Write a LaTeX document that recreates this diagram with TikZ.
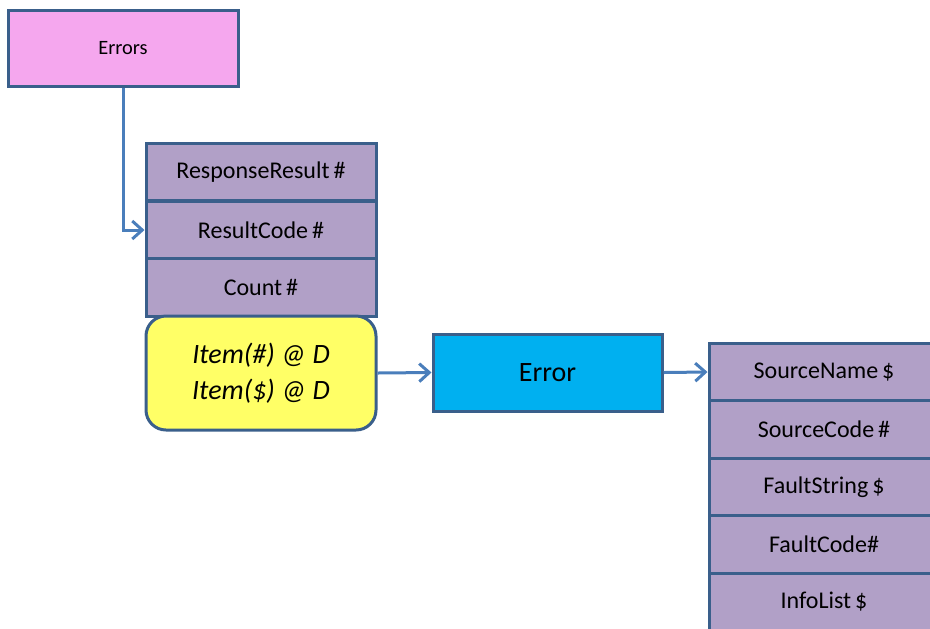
\documentclass[tikz,border=0pt]{standalone}
\usepackage{fontspec}
\setmainfont{Carlito}
\usetikzlibrary{arrows.meta, positioning}
\definecolor{boxline}{HTML}{3A5F8B}
\definecolor{linkblue}{HTML}{4A7EBB}
\definecolor{errorspink}{HTML}{F5A7EE}
\definecolor{fieldfill}{HTML}{B1A0C7}
\definecolor{itemyellow}{HTML}{FFFF66}
\definecolor{errorcyan}{HTML}{00B0F0}

\begin{document}
\begin{tikzpicture}[x=0.5pt, y=-0.5pt,
    field/.style={draw=boxline, line width=1.5pt, fill=fieldfill, minimum width=115pt,
      minimum height=28.75pt, inner sep=0pt, font=\fontsize{12}{14}\selectfont},
    link/.style={draw=linkblue, line width=1.5pt, -{Straight Barb[length=5pt, width=9pt]}}]
          \useasboundingbox (0,0) rectangle (930,628);
          \clip (0,0) rectangle (930,628);
          % Errors box
          \node[draw=boxline, line width=1.5pt, fill=errorspink, minimum width=115pt, minimum height=38pt,
            font=\fontsize{10.2}{12}\selectfont] (errors) at (123,48) {Errors};
          % Left fields
          \node[field] (respres) at (261,172) {ResponseResult\,\#};
          \node[field] (rescode) at (261,230) {ResultCode\,\#};
          \node[field] (count) at (261,287.5) {Count\,\#};
          % Items
          \node[draw=boxline, line width=1.5pt, fill=itemyellow, rounded corners=10pt, minimum width=115pt,
            minimum height=57pt, align=center, font=\fontsize{14}{18}\selectfont\itshape] (items) at (261,373)
            {Item(\#) @ D\\Item(\$) @ D};
          % Error box
          \node[draw=boxline, line width=1.5pt, fill=errorcyan, minimum width=114.5pt, minimum height=38.5pt,
            font=\fontsize{14}{16}\selectfont] (error) at (547.5,372.5) {Error};
          % Right fields
          \node[field] (srcname) at (824,372) {SourceName\,\$};
          \node[field] (srccode) at (824,429.5) {SourceCode\,\#};
          \node[field] (faultstr) at (824,487) {FaultString\,\$};
          \node[field] (faultcode) at (824,544.5) {FaultCode\#};
          \node[field] (infolist) at (824,602) {InfoList\,\$};
          % Links
          \draw[link] (errors.south) |- (rescode.west);
          \draw[link] (items.east) -- (error.west);
          \draw[link] (error.east) -- (srcname.west);
        \end{tikzpicture}
\end{document}
